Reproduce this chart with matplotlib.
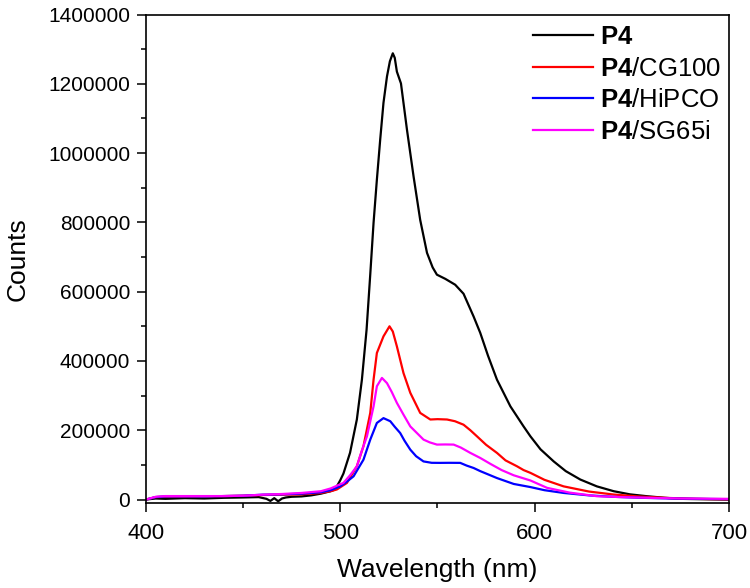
import matplotlib
matplotlib.use('Agg')
import matplotlib.pyplot as plt
from matplotlib.ticker import MultipleLocator

plt.rcParams['font.family'] = ['Liberation Sans', 'DejaVu Sans']
plt.rcParams['mathtext.fontset'] = 'custom'
plt.rcParams['mathtext.rm'] = 'Liberation Sans'
plt.rcParams['mathtext.bf'] = 'Liberation Sans:bold'

# emission spectra (wavelength in nm, counts)
wl_p4 = [400, 405, 410, 420, 430, 440, 450, 458, 462, 464, 466, 468, 470, 472, 475, 480, 485, 490, 495, 497.3,
         499.9, 501.6, 505, 508.5, 511.1, 513.5, 515.4, 517.1, 518.8, 520.5, 522.2, 524, 525.5, 527, 528, 529.1,
         531.2, 534.3, 537.7, 541.1, 544.6, 547.5, 549.7, 554, 559.1, 563.4, 568.6, 572, 576, 580.6, 587.5,
         594.3, 597.8, 603, 609.8, 616, 623.5, 632, 640.7, 649, 657.9, 667, 675, 685, 700]
cnt_p4 = [0, 3000, 2000, 4000, 3000, 5000, 6000, 7000, 2000, -4000, 4000, -5000, 3000, 6000, 8000, 9000, 12000,
          17000, 24000, 29000, 55000, 75000, 135000, 231000, 346000, 490000, 650000, 799000, 923000, 1038000,
          1145000, 1221000, 1265000, 1288000, 1275000, 1235000, 1201000, 1067000, 932000, 807000, 712000, 670000,
          649000, 637000, 620000, 594000, 528000, 481000, 415000, 346000, 269000, 211000, 182500, 145000, 110000,
          82000, 57700, 38000, 24000, 15000, 9500, 5000, 2000, 1000, 0]

wl_cg100 = [400, 405, 410, 420, 430, 440, 450, 460, 470, 480, 490, 495, 498.2, 503.4, 508.5, 511.9, 515.4, 517.1,
            518.8, 522.2, 525.3, 527, 529.1, 532.5, 536, 541.1, 546.3, 550, 554.9, 559, 563.4, 566.9, 570.3, 575,
            580.6, 585, 590.9, 594.3, 597.8, 605, 614.9, 628, 640.7, 653, 666.4, 680, 700]
cnt_cg100 = [0, 7000, 8000, 8000, 9000, 10000, 11000, 13000, 14000, 15000, 19000, 24000, 29000, 48000, 96000,
             154000, 250000, 346000, 423000, 471000, 500000, 485000, 442000, 365000, 308000, 250000, 231000, 232000,
             231000, 226000, 216000, 200000, 182500, 158000, 134600, 113000, 96000, 85000, 77000, 57000, 38000,
             23000, 14400, 9000, 5000, 2500, 0]

wl_hipco = [400, 405, 410, 420, 430, 440, 450, 460, 470, 480, 490, 495, 499.9, 503, 506.8, 511.9, 515.4, 518.8,
            522.2, 525.7, 528, 530.8, 533, 536, 539, 542.8, 547, 551.4, 556, 561.7, 565, 568.6, 572, 580.6, 589.2,
            597.8, 605, 614.9, 628, 640.7, 655, 670, 685, 700]
cnt_hipco = [0, 7000, 9000, 9000, 9000, 10000, 11000, 14000, 15000, 17000, 21000, 27000, 38000, 50000, 67000,
             115000, 173000, 221000, 235000, 226000, 210000, 192000, 170000, 144000, 125000, 110000, 106000, 105800,
             106000, 105800, 98000, 91000, 82000, 62000, 45000, 36000, 27000, 19000, 12000, 7800, 5000, 3000, 2000,
             1000]

wl_sg65i = [400, 405, 410, 420, 430, 440, 450, 460, 470, 480, 490, 495, 501.6, 505, 508.5, 511, 513.7, 517.1,
            518.8, 521.4, 524, 526.5, 529.1, 532.5, 536, 542.8, 546, 549.7, 554, 558.3, 562, 566.9, 572, 577.2,
            583, 589.2, 597.8, 606.4, 618, 632.1, 645, 657.9, 675, 700]
cnt_sg65i = [0, 8000, 10000, 10000, 10000, 10000, 11000, 14000, 16000, 19000, 24000, 32000, 48000, 70000, 96000,
             140000, 182500, 269000, 327000, 351000, 336000, 310000, 279000, 245000, 211000, 173000, 165000, 158600,
             159000, 158600, 150000, 134600, 120000, 103000, 85000, 70000, 55000, 33700, 20000, 9500, 7000, 5000,
             3000, 2000]

series = [
    (wl_p4, cnt_p4, '#000000', r'$\bf{P4}$'),
    (wl_cg100, cnt_cg100, '#ff0000', r'$\bf{P4}$/CG100'),
    (wl_hipco, cnt_hipco, '#0000ff', r'$\bf{P4}$/HiPCO'),
    (wl_sg65i, cnt_sg65i, '#ff00ff', r'$\bf{P4}$/SG65i'),
]

fig = plt.figure(figsize=(7.5, 5.88), dpi=100)
ax = fig.add_axes([146 / 750, 85 / 588, 583 / 750, 488.5 / 588])

for x, y, c, lab in series:
    ax.plot(x, y, color=c, lw=1.6, label=lab)

ax.set_xlim(400, 700)
ax.set_ylim(-10000, 1400000)
ax.xaxis.set_major_locator(MultipleLocator(100))
ax.xaxis.set_minor_locator(MultipleLocator(50))
ax.yaxis.set_major_locator(MultipleLocator(200000))
ax.yaxis.set_minor_locator(MultipleLocator(100000))
ax.ticklabel_format(axis='y', style='plain', useOffset=False)

ax.tick_params(which='both', direction='out', width=1.1, top=False, right=False)
ax.tick_params(axis='y', labelsize=15)
ax.tick_params(axis='x', labelsize=16)
ax.tick_params(which='major', length=6.5, pad=5)
ax.tick_params(axis='x', which='major', pad=8)
ax.tick_params(which='minor', length=3.3)
for s in ax.spines.values():
    s.set_linewidth(1.2)

ax.set_xlabel('Wavelength (nm)', fontsize=19, labelpad=10)
ax.set_ylabel('Counts', fontsize=19, labelpad=13)

ax.legend(loc='upper left', bbox_to_anchor=(533 / 750, 1 - 25 / 588), bbox_transform=fig.transFigure,
          frameon=False, fontsize=18.5, handlelength=2.33, handletextpad=0.27, labelspacing=0.3,
          borderpad=0, borderaxespad=0)

fig.savefig('out.png', dpi=100)
